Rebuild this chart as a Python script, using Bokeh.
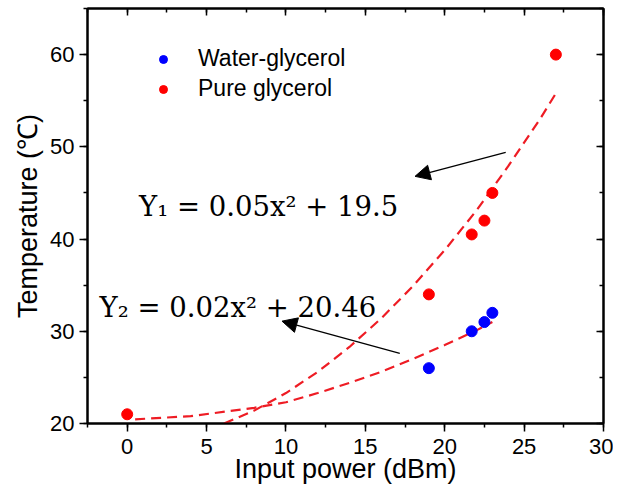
from bokeh.plotting import figure
from bokeh.models import (Range1d, LinearAxis, SingleIntervalTicker, Legend, LegendItem,
                          Arrow, NormalHead, Label, CustomJSTickFormatter)
from bokeh.embed import file_html
from bokeh.resources import INLINE

# ---------------- data ----------------
water_x = [19.0, 21.7, 22.5, 23.0]
water_y = [26.0, 30.0, 31.0, 32.0]
pure_x = [0.0, 19.0, 21.7, 22.5, 23.0, 27.0]
pure_y = [21.0, 34.0, 40.5, 42.0, 45.0, 60.0]
fit1_x = [6.1, 8, 10, 12, 14, 16, 18, 20, 22, 24, 26, 27]
fit1_y = [20.0, 21.4, 23.3, 25.6, 28.3, 31.4, 34.9, 38.8, 43.1, 47.9, 53.0, 55.8]
fit2_x = [0.5, 4, 8, 10, 12, 14, 16, 18, 20, 22, 23]
fit2_y = [20.45, 20.8, 21.7, 22.3, 23.3, 24.4, 25.6, 27.0, 28.5, 30.1, 31.0]
eq_labels = ["Y\u2081 = 0.05x\u00b2 + 19.5", "Y\u2082 = 0.02x\u00b2 + 20.46"]
eq_x = [0.75, -1.74]
eq_y = [43.6, 32.6]
arrow_tail_x = [23.84, 17.17]
arrow_tail_y = [49.4, 27.6]
arrow_head_x = [18.13, 9.75]
arrow_head_y = [46.8, 31.1]
series_names = ["Water-glycerol", "Pure glycerol"]
x_label = "Input power (dBm)"
y_label = "Temperature (\u2103)"
x_min, x_max = -2.5, 30
y_min, y_max = 20, 65

# ---------------- figure ----------------
p = figure(width=613, height=493, output_backend="svg", toolbar_location=None,
           x_range=Range1d(x_min, x_max), y_range=Range1d(y_min, y_max),
           min_border_left=87, min_border_right=10, min_border_top=8, min_border_bottom=70,
           x_axis_type=None, y_axis_type=None)
p.grid.visible = False
p.outline_line_color = "black"
p.outline_line_width = 2
p.background_fill_color = "white"
p.border_fill_color = "white"

xt = SingleIntervalTicker(interval=5, num_minor_ticks=2)
yt = SingleIntervalTicker(interval=10, num_minor_ticks=2)
empty = CustomJSTickFormatter(code="return ''")

def style(ax, inside=False):
    ax.axis_line_color = "black"
    ax.axis_line_width = 2
    ax.major_tick_line_color = "black"
    ax.minor_tick_line_color = "black"
    ax.major_tick_line_width = 1.5
    ax.minor_tick_line_width = 1.5
    if inside:
        ax.major_tick_in = 7
        ax.major_tick_out = 0
        ax.minor_tick_in = 4
        ax.minor_tick_out = 0
        ax.formatter = empty
        ax.major_label_standoff = 0
    else:
        ax.major_tick_in = 0
        ax.major_tick_out = 8
        ax.minor_tick_in = 0
        ax.minor_tick_out = 4
        ax.major_label_text_font = "Liberation Sans"
        ax.major_label_text_font_size = "22px"
        ax.major_label_text_color = "black"
        ax.axis_label_text_font = "Liberation Sans"
        ax.axis_label_text_font_size = "27px"
        ax.axis_label_text_font_style = "normal"
        ax.axis_label_text_color = "black"

xa = LinearAxis(ticker=xt, axis_label=x_label)
style(xa)
xa.major_label_standoff = 7
xa.axis_label_standoff = -3
p.add_layout(xa, "below")

ya = LinearAxis(ticker=yt, axis_label=y_label)
style(ya)
ya.major_label_standoff = 5
ya.axis_label_standoff = 4
p.add_layout(ya, "left")

ta = LinearAxis(ticker=xt)
style(ta, inside=True)
p.add_layout(ta, "above")
ra = LinearAxis(ticker=yt)
style(ra, inside=True)
p.add_layout(ra, "right")

red_line = "#ee1c24"
p.line(fit1_x, fit1_y, line_color=red_line, line_width=2.2, line_dash="10 6")
p.line(fit2_x, fit2_y, line_color=red_line, line_width=2.2, line_dash="10 6")

r_blue = p.scatter(water_x, water_y, size=11, fill_color="#0000ff", line_color="#0000ff")
r_red = p.scatter(pure_x, pure_y, size=11, fill_color="#ff0000", line_color="#ff0000")

for i in range(2):
    p.add_layout(Arrow(end=NormalHead(size=15, fill_color="black", line_color="black"),
                       x_start=arrow_tail_x[i], y_start=arrow_tail_y[i],
                       x_end=arrow_head_x[i], y_end=arrow_head_y[i],
                       line_color="black", line_width=1.3))
    p.add_layout(Label(x=eq_x[i], y=eq_y[i], text=eq_labels[i],
                       text_font="DejaVu Serif", text_font_size="27.5px",
                       text_color="black", text_baseline="alphabetic", text_align="left"))

legend = Legend(items=[LegendItem(label=series_names[0], renderers=[r_blue]),
                       LegendItem(label=series_names[1], renderers=[r_red])],
                location=(66, 321), padding=0, border_line_color=None,
                background_fill_alpha=0, label_text_font="Liberation Sans",
                label_text_font_size="23px", label_text_color="black",
                glyph_width=20, glyph_height=20,
                label_height=20, label_standoff=25, spacing=3, margin=0)
p.add_layout(legend)

open("out.html", "w").write(file_html(p, INLINE))
